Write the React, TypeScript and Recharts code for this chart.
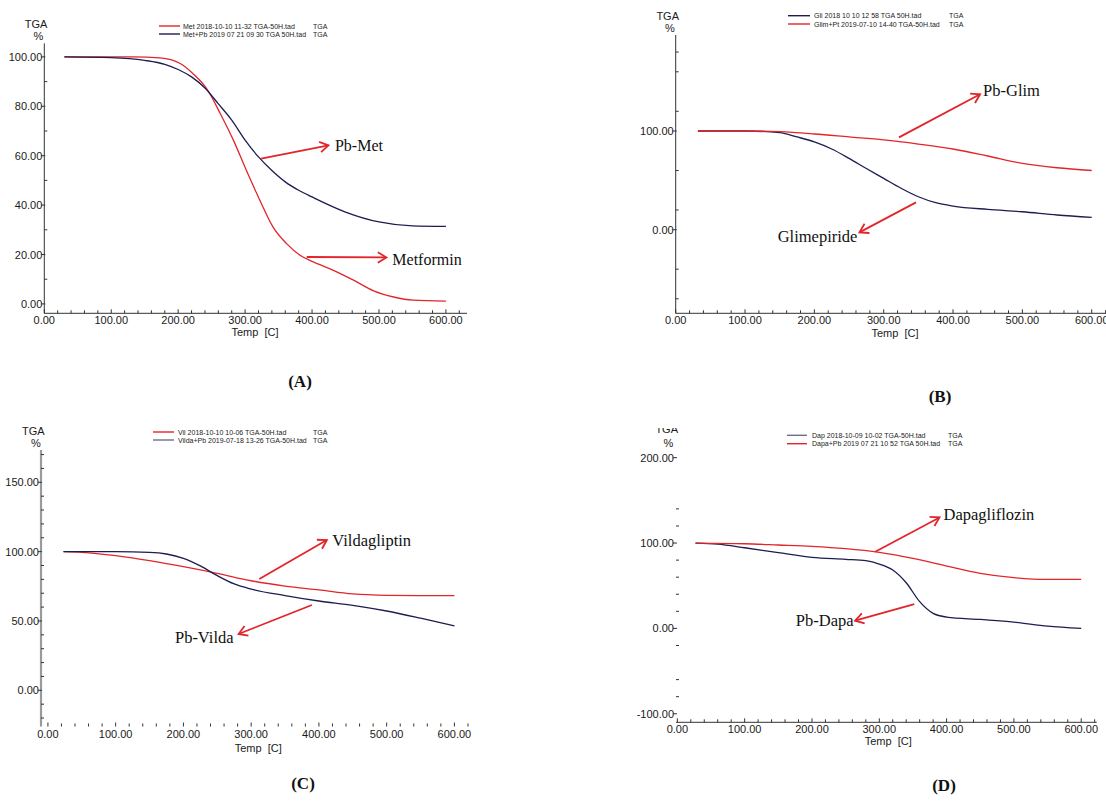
import React from 'react';
import { LineChart, Line, XAxis, YAxis, ReferenceLine } from 'recharts';

const W = 1106;
const H = 803;
const RED = '#e2252b';
const NAVY = '#1c1d50';
const GREYBLUE = '#6c7088';
const SANS = '"Liberation Sans", Arial, sans-serif';
const SERIF = '"Liberation Serif", "Times New Roman", serif';

// ---------- Panel A: Metformin ----------
const metTemp = [30, 100, 133, 173, 203, 223, 243, 263, 283, 302, 322, 342, 362, 382, 402, 432, 462, 492, 522, 551, 600];
const metTga = [100, 100, 100, 99.6, 97.3, 93, 87, 77, 66, 54, 42, 31, 24.4, 19.7, 17, 13.6, 9.6, 5.3, 2.8, 1.5, 1.1];
const pbMetTemp = [30, 100, 150, 180, 200, 220, 240, 260, 280, 300, 320, 340, 360, 380, 400, 450, 500, 550, 600];
const pbMetTga = [100, 99.7, 98.6, 97, 94.9, 91.9, 87.4, 81, 74.4, 66.3, 59.5, 54, 49.4, 46, 43.3, 37.2, 33.2, 31.6, 31.4];

// ---------- Panel B: Glimepiride ----------
const gliTemp = [32, 100, 150, 175, 200, 225, 250, 275, 300, 325, 350, 375, 400, 450, 500, 550, 600];
const gliTga = [100, 100, 98.3, 94, 89, 81.8, 72.3, 62, 52, 42, 33.4, 27.4, 24, 20.6, 18.2, 14.9, 12.5];
const pbGlimTemp = [32, 100, 150, 200, 250, 300, 350, 400, 450, 500, 550, 600];
const pbGlimTga = [100, 100, 99.3, 97, 94, 91, 86.8, 81.8, 74.7, 67.2, 62.8, 60];

// ---------- Panel C: Vildagliptin ----------
const vilTemp = [23, 50, 100, 150, 200, 250, 300, 350, 400, 450, 500, 550, 600];
const vilTga = [100, 99.5, 97.1, 93.5, 89.2, 84.4, 79, 75.2, 72.4, 69.5, 68.5, 68.3, 68.3];
const pbVildaTemp = [23, 100, 150, 175, 200, 225, 250, 275, 300, 350, 400, 450, 500, 550, 600];
const pbVildaTga = [100, 100, 99.5, 98.3, 95.2, 89.7, 82.7, 76.7, 73, 68.3, 64.4, 61.3, 57.2, 52, 46.4];

// ---------- Panel D: Dapagliflozin ----------
const dapTemp = [27, 60, 100, 150, 200, 250, 280, 300, 320, 340, 360, 380, 400, 450, 500, 550, 600];
const dapTga = [100, 98.8, 94.5, 88.7, 83.2, 80.9, 79.3, 75.4, 68.4, 53.5, 31.3, 17.6, 13.3, 10.5, 7.4, 2.7, 0];
const pbDapaTemp = [27, 100, 150, 200, 250, 300, 350, 400, 450, 500, 550, 600];
const pbDapaTga = [100, 99.2, 97.7, 96.1, 93.4, 89, 82, 73, 64.5, 59.4, 57.4, 57.4];

// ---------- Tick values ----------
const xTicks = [0, 20, 40, 60, 80, 100, 120, 140, 160, 180, 200, 220, 240, 260, 280, 300, 320, 340, 360, 380, 400, 420, 440, 460, 480, 500, 520, 540, 560, 580, 600, 620];
const xMajor = [0, 100, 200, 300, 400, 500, 600];
const yTicksA = [0, 10, 20, 30, 40, 50, 60, 70, 80, 90, 100];
const yMajorA = [0, 20, 40, 60, 80, 100];
const yTicksB = [-70, -40, 0, 20, 60, 100, 120, 160, 180];
const yMajorB = [0, 100];
const yTicksC = [-20, -10, 0, 10, 20, 30, 40, 50, 60, 70, 80, 90, 100, 110, 120, 130, 140, 150, 160, 170];
const yMajorC = [0, 50, 100, 150];
const yTicksD = [-100, -80, -60, -20, 0, 20, 40, 60, 80, 100, 120, 140, 200];
const yMajorD = [-100, 0, 100, 200];

// ---------- Legends ----------
const legendA = ['Met 2018-10-10 11-32 TGA-50H.tad', 'Met+Pb 2019 07 21 09 30 TGA 50H.tad'];
const legendB = ['Gli 2018 10 10 12 58 TGA 50H.tad', 'Glim+Pt 2019-07-10 14-40 TGA-50H.tad'];
const legendC = ['Vil 2018-10-10 10-06 TGA-50H.tad', 'Vilda+Pb 2019-07-18 13-26 TGA-50H.tad'];
const legendD = ['Dap 2018-10-09 10-02 TGA-50H.tad', 'Dapa+Pb 2019 07 21 10 52 TGA 50H.tad'];

// ---------- Annotations (data space) ----------
const annotA = [
  { label: 'Pb-Met', from: [324, 58.8], to: [424.5, 64.2] },
  { label: 'Metformin', from: [392, 19.0], to: [511, 18.8] },
];
const annotB = [
  { label: 'Pb-Glim', from: [322, 93.6], to: [439, 137.2] },
  { label: 'Glimepiride', from: [346.6, 27.7], to: [265, -2.7] },
];
const annotC = [
  { label: 'Vildagliptin', from: [312, 80.3], to: [411.7, 108.4] },
  { label: 'Pb-Vilda', from: [389.6, 61.5], to: [281.4, 40.6] },
];
const annotD = [
  { label: 'Dapagliflozin', from: [294, 89.8], to: [389.5, 130] },
  { label: 'Pb-Dapa', from: [352, 28.5], to: [264, 9] },
];

const toPoints = (xs: number[], ys: number[]) => xs.map((t, i) => ({ t, v: ys[i] }));

const textOffsets: Record<string, [number, number]> = {
  'Pb-Met': [6.5, 0],
  Metformin: [6, 2],
  'Pb-Glim': [3, -3.5],
  Glimepiride: [-2, 4.5],
  Vildagliptin: [5.5, 0.5],
  'Pb-Vilda': [-5, 3.5],
  Dapagliflozin: [4, -3],
  'Pb-Dapa': [-1.5, 0],
};

const arrowShape = (label: string, fontSize: number) => (props: any) => {
  const { x1, y1, x2, y2 } = props;
  const ang = Math.atan2(y2 - y1, x2 - x1);
  const L = 10;
  const A = 0.55;
  const hx1 = x2 - L * Math.cos(ang - A);
  const hy1 = y2 - L * Math.sin(ang - A);
  const hx2 = x2 - L * Math.cos(ang + A);
  const hy2 = y2 - L * Math.sin(ang + A);
  const [dx, dy] = textOffsets[label] || [4, 0];
  const right = x2 >= x1;
  return (
    <g>
      <line x1={x1} y1={y1} x2={x2} y2={y2} stroke={RED} strokeWidth={1.8} />
      <polyline points={`${hx1},${hy1} ${x2},${y2} ${hx2},${hy2}`} fill="none" stroke={RED} strokeWidth={1.8} />
      <text
        x={x2 + dx}
        y={y2 + dy}
        textAnchor={right ? 'start' : 'end'}
        dominantBaseline="central"
        fontFamily={SERIF}
        fontSize={fontSize}
        fill="#111"
      >
        {label}
      </text>
    </g>
  );
};

const makeXTick = (majors: number[]) => (props: any) => {
  const { x, y, payload } = props;
  const v = payload.value;
  const major = majors.includes(v);
  return (
    <g>
      <line x1={x} x2={x} y1={y} y2={y - (major ? 4 : 3)} stroke="#333" strokeWidth={1} />
      {major && (
        <text x={x} y={y + 11} textAnchor="middle" fontFamily={SANS} fontSize={11} fill="#1a1a1a">
          {v.toFixed(2)}
        </text>
      )}
    </g>
  );
};

const makeYTick = (majors: number[]) => (props: any) => {
  const { x, y, payload } = props;
  const v = payload.value;
  const major = majors.includes(v);
  return (
    <g>
      <line x1={x - (major ? 3 : 0)} x2={x + (major ? 1 : 3)} y1={y} y2={y} stroke="#333" strokeWidth={1} />
      {major && (
        <text x={x - 2} y={y + 4} textAnchor="end" fontFamily={SANS} fontSize={11} fill="#1a1a1a">
          {v.toFixed(2)}
        </text>
      )}
    </g>
  );
};

type Series = { data: { t: number; v: number }[]; color: string };
type PanelCfg = {
  rect: { left: number; top: number; right: number; bottom: number };
  xDomain: [number, number];
  yDomain: [number, number];
  yTicks: number[];
  yMajor: number[];
  xAxisLine: any;
  yAxisLine: any;
  series: Series[];
  annotations: { label: string; from: number[]; to: number[] }[];
  fontSize: number;
};

const YW = 30;
const XH = 30;

function Panel({ cfg }: { cfg: PanelCfg }) {
  const margin = {
    left: cfg.rect.left - YW,
    top: cfg.rect.top,
    right: W - cfg.rect.right,
    bottom: H - cfg.rect.bottom - XH,
  };
  return (
    <div style={{ position: 'absolute', left: 0, top: 0, width: W, height: H }}>
      <LineChart width={W} height={H} margin={margin}>
        <XAxis
          type="number"
          dataKey="t"
          domain={cfg.xDomain}
          ticks={xTicks}
          interval={0}
          tickSize={0}
          tickMargin={0}
          height={XH}
          allowDataOverflow
          axisLine={cfg.xAxisLine}
          tickLine={false}
          tick={makeXTick(xMajor)}
        />
        <YAxis
          type="number"
          domain={cfg.yDomain}
          ticks={cfg.yTicks}
          interval={0}
          tickSize={0}
          tickMargin={0}
          width={YW}
          allowDataOverflow
          axisLine={cfg.yAxisLine}
          tickLine={false}
          tick={makeYTick(cfg.yMajor)}
        />
        {cfg.series.map((s, i) => (
          <Line
            key={i}
            data={s.data}
            dataKey="v"
            type="monotone"
            stroke={s.color}
            strokeWidth={1.3}
            dot={false}
            activeDot={false}
            isAnimationActive={false}
          />
        ))}
        {cfg.annotations.map((a) => (
          <ReferenceLine
            key={a.label}
            segment={[
              { x: a.from[0], y: a.from[1] },
              { x: a.to[0], y: a.to[1] },
            ]}
            ifOverflow="visible"
            shape={arrowShape(a.label, cfg.fontSize)}
          />
        ))}
      </LineChart>
    </div>
  );
}

const panels: PanelCfg[] = [
  {
    rect: { left: 44.3, top: 43.3, right: 467, bottom: 313.3 },
    xDomain: [0, 631.5],
    yDomain: [-3.8, 105.5],
    yTicks: yTicksA,
    yMajor: yMajorA,
    xAxisLine: { stroke: '#333' },
    yAxisLine: { stroke: '#333' },
    series: [
      { data: toPoints(metTemp, metTga), color: RED },
      { data: toPoints(pbMetTemp, pbMetTga), color: NAVY },
    ],
    annotations: annotA,
    fontSize: 16,
  },
  {
    rect: { left: 675.7, top: 35, right: 1106, bottom: 313.3 },
    xDomain: [0, 620.6],
    yDomain: [-84.7, 197.3],
    yTicks: yTicksB,
    yMajor: yMajorB,
    xAxisLine: { stroke: '#333' },
    yAxisLine: { stroke: '#333' },
    series: [
      { data: toPoints(gliTemp, gliTga), color: NAVY },
      { data: toPoints(pbGlimTemp, pbGlimTga), color: RED },
    ],
    annotations: annotB,
    fontSize: 16.5,
  },
  {
    rect: { left: 41, top: 450, right: 470, bottom: 726.5 },
    xDomain: [-10.2, 623],
    yDomain: [-26.1, 173.3],
    yTicks: yTicksC,
    yMajor: yMajorC,
    xAxisLine: false,
    yAxisLine: { stroke: '#9a9a9a', strokeWidth: 2.2 },
    series: [
      { data: toPoints(vilTemp, vilTga), color: RED },
      { data: toPoints(pbVildaTemp, pbVildaTga), color: NAVY },
    ],
    annotations: annotC,
    fontSize: 16.5,
  },
  {
    rect: { left: 676, top: 450, right: 1096.7, bottom: 722.3 },
    xDomain: [-2, 623],
    yDomain: [-110, 209],
    yTicks: yTicksD,
    yMajor: yMajorD,
    xAxisLine: { stroke: '#333' },
    yAxisLine: false,
    series: [
      { data: toPoints(dapTemp, dapTga), color: NAVY },
      { data: toPoints(pbDapaTemp, pbDapaTga), color: RED },
    ],
    annotations: annotD,
    fontSize: 16.5,
  },
];

type LegendPos = { lineX1: number; lineX2: number; textX: number; tgaX: number; rows: [number, number] };

function Legend({ texts, colors, pos }: { texts: string[]; colors: string[]; pos: LegendPos }) {
  return (
    <g>
      {texts.map((t, i) => (
        <g key={i}>
          <line x1={pos.lineX1} x2={pos.lineX2} y1={pos.rows[i]} y2={pos.rows[i]} stroke={colors[i]} strokeWidth={1.4} />
          <text x={pos.textX} y={pos.rows[i] + 2.5} fontFamily={SANS} fontSize={7} fill="#222">
            {t}
          </text>
          <text x={pos.tgaX} y={pos.rows[i] + 2.5} fontFamily={SANS} fontSize={7} fill="#222">
            TGA
          </text>
        </g>
      ))}
    </g>
  );
}

function AxisTitles({ tga, pct, temp }: { tga: [number, number]; pct: [number, number]; temp: [number, number] }) {
  return (
    <g fontFamily={SANS} fontSize={11} fill="#1a1a1a">
      <text x={tga[0]} y={tga[1] + 4} textAnchor="middle">TGA</text>
      <text x={pct[0]} y={pct[1] + 4} textAnchor="middle">%</text>
      <text x={temp[0]} y={temp[1] + 4} textAnchor="middle" style={{ whiteSpace: 'pre' }}>
        {'Temp  [C]'}
      </text>
    </g>
  );
}

export default function App() {
  return (
    <div style={{ position: 'absolute', left: 0, top: 0, width: W, height: H, background: '#fff', overflow: 'hidden' }}>
      {panels.map((p, i) => (
        <Panel key={i} cfg={p} />
      ))}
      <svg width={W} height={H} style={{ position: 'absolute', left: 0, top: 0, pointerEvents: 'none' }}>
        <defs>
          <clipPath id="clipD">
            <rect x={600} y={428} width={200} height={40} />
          </clipPath>
        </defs>
        <AxisTitles tga={[36, 24.3]} pct={[38.3, 36]} temp={[255, 332.3]} />
        <AxisTitles tga={[667.7, 15.7]} pct={[670, 28.3]} temp={[895, 333.3]} />
        <AxisTitles tga={[33.3, 430.7]} pct={[36, 443.3]} temp={[258.3, 748.3]} />
        <g clipPath="url(#clipD)">
          <text x={666.7} y={433} textAnchor="middle" fontFamily={SANS} fontSize={11} fill="#1a1a1a">TGA</text>
        </g>
        <text x={668.3} y={446.7} textAnchor="middle" fontFamily={SANS} fontSize={11} fill="#1a1a1a">%</text>
        <text x={888.3} y={745} textAnchor="middle" fontFamily={SANS} fontSize={11} fill="#1a1a1a" style={{ whiteSpace: 'pre' }}>
          {'Temp  [C]'}
        </text>

        <Legend texts={legendA} colors={[RED, NAVY]} pos={{ lineX1: 159, lineX2: 180, textX: 183, tgaX: 313, rows: [26, 34] }} />
        <Legend texts={legendB} colors={[NAVY, RED]} pos={{ lineX1: 788, lineX2: 810, textX: 814, tgaX: 949, rows: [15.7, 24] }} />
        <Legend texts={legendC} colors={[RED, GREYBLUE]} pos={{ lineX1: 153, lineX2: 174, textX: 178, tgaX: 313, rows: [432, 440] }} />
        <Legend texts={legendD} colors={[GREYBLUE, RED]} pos={{ lineX1: 787, lineX2: 807, textX: 812, tgaX: 948, rows: [435.3, 443.7] }} />

        <g fontFamily={SERIF} fontSize={17} fontWeight="bold" fill="#111" textAnchor="middle">
          <text x={300} y={387}>(A)</text>
          <text x={940} y={402}>(B)</text>
          <text x={303} y={789}>(C)</text>
          <text x={944} y={791}>(D)</text>
        </g>
      </svg>
    </div>
  );
}
